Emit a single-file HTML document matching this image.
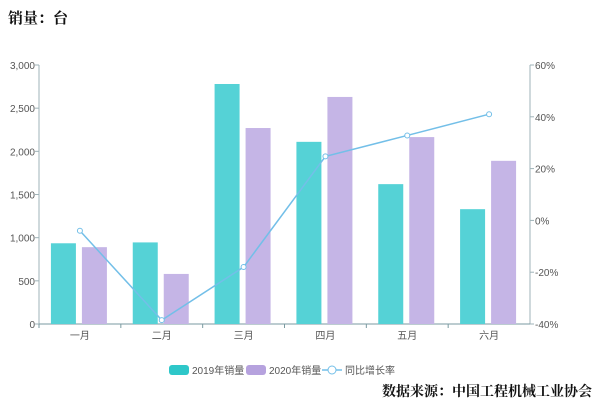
<!DOCTYPE html>
<html><head><meta charset="utf-8"><style>
body{margin:0;background:#fff;width:600px;height:407px;overflow:hidden}
text{font-family:"Liberation Sans","Noto Sans CJK SC",sans-serif}
.serif{font-family:"Liberation Serif","Noto Serif CJK SC",serif;font-weight:bold}
</style></head><body>
<svg id="c" width="600" height="407" xmlns="http://www.w3.org/2000/svg">
<text class="serif" x="8" y="23" font-size="15" fill="#111">销量：台</text>
<text class="serif" x="592" y="396" font-size="14" fill="#111" text-anchor="end">数据来源：中国工程机械工业协会</text>
<g id="plot"></g>
</svg>
<script>
const categories=["一月","二月","三月","四月","五月","六月"];
const sales2019=[935,945,2780,2110,1620,1330];
const sales2020=[890,580,2270,2630,2165,1890];
const growth=[-4,-38.5,-18,24.7,32.8,41];
const leftTicks=[0,500,1000,1500,2000,2500,3000];
const rightTicks=[-40,-20,0,20,40,60];
const ns="http://www.w3.org/2000/svg";
const g=document.getElementById('plot');
const X0=39,X1=530,Y0=324,Y1=65;
const band=(X1-X0)/categories.length;
const yL=v=>Y0-(v/3000)*(Y0-Y1);
const yR=v=>Y0-((v+40)/100)*(Y0-Y1);
const xC=i=>X0+band*(i+0.5);
function el(t,a,p){const e=document.createElementNS(ns,t);for(const k in a)e.setAttribute(k,a[k]);(p||g).appendChild(e);return e;}
// axes
let a=el('line',{x1:X0,y1:Y1,x2:X0,y2:Y0,stroke:'#9fb3b8'});


a=el('line',{x1:X1,y1:Y1,x2:X1,y2:Y0,stroke:'#9fb3b8'});


a=el('line',{x1:X0,y1:Y0,x2:X1,y2:Y0,stroke:'#7a9aa0'});


leftTicks.forEach(v=>{
 el('line',{x1:X0-4,y1:yL(v),x2:X0,y2:yL(v),stroke:'#9fb3b8'});
 const t=el('text',{x:X0-4,y:yL(v)+4,'font-size':10,fill:'#555','text-anchor':'end'});
 t.textContent=v.toLocaleString('en-US');
 
 
});
rightTicks.forEach(v=>{
 el('line',{x1:X1,y1:yR(v),x2:X1+4,y2:yR(v),stroke:'#9fb3b8'});
 const t=el('text',{x:X1+5,y:yR(v)+4,'font-size':10,fill:'#555'});
 t.textContent=v+'%';
 
 
});
categories.forEach((c,i)=>{
 el('line',{x1:X0+band*i,y1:Y0,x2:X0+band*i,y2:Y0+4,stroke:'#7a9aa0'});
 const t=el('text',{x:xC(i),y:Y0+15,'font-size':10,fill:'#555','text-anchor':'middle'});
 t.textContent=c;
 
 
 let b=el('rect',{x:xC(i)-29,y:yL(sales2019[i]),width:25,height:Y0-yL(sales2019[i]),fill:'#55d2d6'});
 
 
 b=el('rect',{x:xC(i)+2,y:yL(sales2020[i]),width:25,height:Y0-yL(sales2020[i]),fill:'#c5b5e6'});
 
 
});
const ln=el('polyline',{points:growth.map((v,i)=>xC(i)+','+yR(v)).join(' '),fill:'none',stroke:'#73bfe8','stroke-width':1.5});


growth.forEach((v,i)=>{
 const p=el('circle',{cx:xC(i),cy:yR(v),r:2.5,fill:'#fff',stroke:'#73bfe8'});
 
 
});
// legend
const lg=el('g',{});


let r=el('rect',{x:169,y:365,width:20,height:10,rx:3,fill:'#2ec7c9'},lg);
let t=el('text',{x:192,y:374,'font-size':10,fill:'#555'},lg);t.textContent='2019年销量';


r=el('rect',{x:246,y:365,width:20,height:10,rx:3,fill:'#b6a2de'},lg);
t=el('text',{x:269,y:374,'font-size':10,fill:'#555'},lg);t.textContent='2020年销量';


el('line',{x1:322,y1:370,x2:342,y2:370,stroke:'#73bfe8','stroke-width':1.5},lg);
el('circle',{cx:332,cy:370,r:4,fill:'#fff',stroke:'#73bfe8'},lg);
t=el('text',{x:345,y:374,'font-size':10,fill:'#555'},lg);t.textContent='同比增长率';


</script>
</body></html>
